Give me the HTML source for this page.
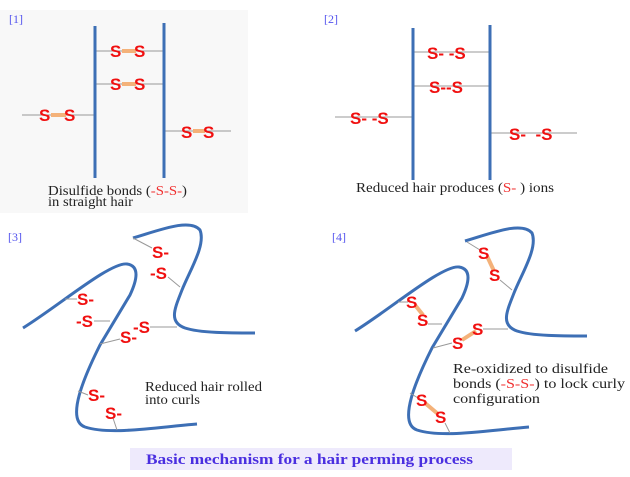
<!DOCTYPE html>
<html><head><meta charset="utf-8"><style>
html,body{margin:0;padding:0;background:#fff;}
svg{display:block}
.s{font-family:"Liberation Sans",sans-serif;font-weight:bold;font-size:17px;fill:#f01010}
.c{font-family:"Liberation Serif",serif;font-size:13.5px;fill:#222}
.l{font-family:"Liberation Serif",serif;font-size:12px;fill:#5555ee}
</style></head><body>
<svg width="630" height="477" viewBox="0 0 630 477" xmlns="http://www.w3.org/2000/svg">
<rect x="0" y="10" width="248" height="203" fill="#f8f8f8"/>
<!-- Panel 1 -->
<text class="l" x="9" y="23">[1]</text>
<g stroke="#999" stroke-width="1">
<line x1="96" y1="51" x2="164" y2="51"/><line x1="96" y1="84" x2="164" y2="84"/>
<line x1="22" y1="115" x2="95" y2="115"/><line x1="164" y1="131" x2="231" y2="131"/>
</g>
<g stroke="#f4b27a" stroke-width="4">
<line x1="122" y1="51" x2="136" y2="51"/><line x1="122" y1="84" x2="136" y2="84"/>
<line x1="51" y1="115" x2="66" y2="115"/><line x1="193" y1="131" x2="205" y2="131"/>
</g>
<g stroke="#3d6fb5" stroke-width="3"><line x1="95" y1="26" x2="95" y2="178"/><line x1="164" y1="23" x2="164" y2="178"/></g>
<text class="s" x="110" y="57">S</text><text class="s" x="134" y="57">S</text>
<text class="s" x="110" y="90">S</text><text class="s" x="134" y="90">S</text>
<text class="s" x="39" y="121">S</text><text class="s" x="64" y="121">S</text>
<text class="s" x="181" y="138">S</text><text class="s" x="203" y="138">S</text>
<text class="c" x="48" y="195" textLength="139" lengthAdjust="spacingAndGlyphs">Disulfide bonds (<tspan fill="#f03030">-S-S-</tspan>)</text>
<text class="c" x="48" y="206" textLength="85" lengthAdjust="spacingAndGlyphs">in straight hair</text>
<!-- Panel 2 -->
<text class="l" x="324" y="23">[2]</text>
<g stroke="#999" stroke-width="1">
<line x1="413" y1="52" x2="490" y2="52"/><line x1="413" y1="86" x2="490" y2="86"/>
<line x1="335" y1="117" x2="412" y2="117"/><line x1="490" y1="133" x2="577" y2="133"/>
</g>
<g stroke="#3d6fb5" stroke-width="3"><line x1="413" y1="28" x2="413" y2="180"/><line x1="490" y1="25" x2="490" y2="180"/></g>
<text class="s" x="427" y="59">S- -S</text>
<text class="s" x="429" y="93">S--S</text>
<text class="s" x="350" y="124">S- -S</text>
<text class="s" x="509" y="140" xml:space="preserve">S-  -S</text>
<text class="c" x="356" y="192" textLength="198" lengthAdjust="spacingAndGlyphs">Reduced hair produces (<tspan fill="#f03030">S-</tspan> ) ions</text>
<!-- Panel 3 -->
<text class="l" x="8" y="241">[3]</text>
<g fill="none" stroke="#3d6fb5" stroke-width="3">
<path d="M23,328 C60,305 110,262 127,264 C140,266 137,280 130,295 L100,345 C85,375 65,420 85,427 C110,435 150,428 197,424"/>
<path d="M133,238 C160,230 190,218 200,230 C206,245 190,270 182,290 C175,308 168,322 185,328 C200,333 230,333 255,333"/>
</g>
<g stroke="#999" stroke-width="1">
<line x1="65" y1="299" x2="77" y2="299"/><line x1="94" y1="321" x2="110" y2="321"/>
<line x1="100" y1="344" x2="120" y2="339"/><line x1="150" y1="327" x2="177" y2="327"/>
<line x1="133" y1="238" x2="152" y2="248"/><line x1="168" y1="277" x2="180" y2="287"/>
<line x1="78" y1="391" x2="88" y2="395"/><line x1="113" y1="418" x2="117" y2="430"/>
</g>
<text class="s" x="77" y="305">S-</text><text class="s" x="76" y="327">-S</text>
<text class="s" x="120" y="343">S-</text><text class="s" x="133" y="333">-S</text>
<text class="s" x="152" y="258">S-</text><text class="s" x="150" y="279">-S</text>
<text class="s" x="88" y="401">S-</text><text class="s" x="105" y="419">S-</text>
<text class="c" x="145" y="391" textLength="117" lengthAdjust="spacingAndGlyphs">Reduced hair rolled</text>
<text class="c" x="145" y="404" textLength="55" lengthAdjust="spacingAndGlyphs">into curls</text>
<!-- Panel 4 -->
<text class="l" x="332" y="241">[4]</text>
<g transform="translate(332,3)" fill="none" stroke="#3d6fb5" stroke-width="3">
<path d="M23,328 C60,305 110,262 127,264 C140,266 137,280 130,295 L100,345 C85,375 65,420 85,427 C110,435 150,428 197,424"/>
<path d="M133,238 C160,230 190,218 200,230 C206,245 190,270 182,290 C175,308 168,322 185,328 C200,333 230,333 255,333"/>
</g>
<g stroke="#999" stroke-width="1">
<line x1="398" y1="302" x2="408" y2="302"/><line x1="428" y1="324" x2="442" y2="324"/>
<line x1="433" y1="348" x2="452" y2="343"/><line x1="483" y1="329" x2="508" y2="329"/>
<line x1="467" y1="242" x2="480" y2="250"/><line x1="500" y1="280" x2="512" y2="290"/>
<line x1="410" y1="393" x2="418" y2="398"/><line x1="445" y1="423" x2="450" y2="433"/>
</g>
<g stroke="#f4b27a" stroke-width="4">
<line x1="415" y1="305" x2="423" y2="315"/><line x1="462" y1="340" x2="476" y2="331"/>
<line x1="487" y1="256" x2="494" y2="271"/><line x1="425" y1="403" x2="438" y2="414"/>
</g>
<text class="s" x="406" y="308">S</text><text class="s" x="417" y="326">S</text>
<text class="s" x="472" y="335">S</text><text class="s" x="452" y="349">S</text>
<text class="s" x="478" y="259">S</text><text class="s" x="489" y="281">S</text>
<text class="s" x="416" y="406">S</text><text class="s" x="435" y="423">S</text>
<text class="c" x="453" y="373" textLength="155" lengthAdjust="spacingAndGlyphs">Re-oxidized to disulfide</text>
<text class="c" x="453" y="388" textLength="172" lengthAdjust="spacingAndGlyphs">bonds (<tspan fill="#f03030">-S-S-</tspan>) to lock curly</text>
<text class="c" x="453" y="403" textLength="87" lengthAdjust="spacingAndGlyphs">configuration</text>
<!-- banner -->
<rect x="130" y="448" width="382" height="22" fill="#eeeafc"/>
<text x="146" y="464" font-family="Liberation Serif,serif" font-size="15" font-weight="bold" fill="#4a2fe0" textLength="327" lengthAdjust="spacingAndGlyphs">Basic mechanism for a hair perming process</text>
</svg>
</body></html>
